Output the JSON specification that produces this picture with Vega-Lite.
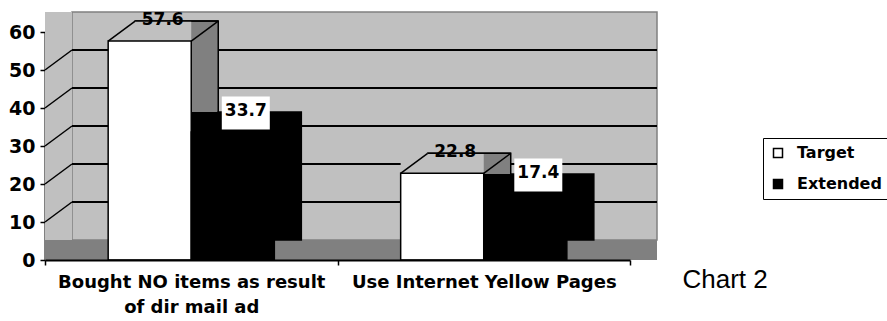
{
  "$schema": "https://vega.github.io/schema/vega-lite/v6.json",
  "width": 585,
  "height": 228,
  "autosize": "none",
  "padding": {"left": 45, "top": 32, "right": 257, "bottom": 61},
  "background": "white",
  "config": {
    "view": {"stroke": null},
    "font": "DejaVu Sans",
    "axisY": {"tickCount": 7, "labelOverlap": false, "zindex": 1, "grid": false, "domainColor": "black", "domainWidth": 2, "tickColor": "black", "tickSize": 5, "tickWidth": 1.5, "labelFont": "DejaVu Sans", "labelFontWeight": "bold", "labelFontSize": 19, "labelColor": "black", "labelPadding": 5, "titleColor": "white", "titleFontSize": 1}
  },
  "datasets": {
    "bars": [
      {"cat": "Bought NO items as result of dir mail ad", "series": "Target", "v": 57.6},
      {"cat": "Bought NO items as result of dir mail ad", "series": "Extended", "v": 33.7},
      {"cat": "Use Internet Yellow Pages", "series": "Target", "v": 22.8},
      {"cat": "Use Internet Yellow Pages", "series": "Extended", "v": 17.4}
    ],
    "wall": [{"lo": 0, "hi": 60}],
    "floor": [{"v": 0}],
    "grid": [{"v": 10}, {"v": 20}, {"v": 30}, {"v": 40}, {"v": 50}],
    "side": [{"v": 10}, {"v": 20}, {"v": 30}, {"v": 40}, {"v": 50}]
  },
  "resolve": {"scale": {"x": "independent"}, "axis": {"x": "independent"}},
  "layer": [
    {
      "layer": [
        {
          "data": {"name": "wall"},
          "mark": {"type": "rect", "fill": "#C0C0C0", "stroke": "#808080", "strokeWidth": 1.5, "xOffset": 27, "x2Offset": 27, "yOffset": -20, "y2Offset": -20},
          "encoding": {
            "x": {"datum": 0, "type": "quantitative", "scale": {"domain": [0, 1]}, "axis": null},
            "x2": {"datum": 1},
            "y": {"field": "lo", "type": "quantitative", "scale": {"domain": [0, 60], "nice": false}, "title": null},
            "y2": {"field": "hi"}
          }
        },
        {
          "data": {"name": "wall"},
          "mark": {"type": "rect", "fill": "#C0C0C0", "x2Offset": 27, "y2Offset": -20},
          "encoding": {
            "x": {"datum": 0, "type": "quantitative"},
            "x2": {"datum": 0},
            "y": {"field": "lo", "type": "quantitative", "title": null},
            "y2": {"field": "hi"}
          }
        },
        {
          "data": {"name": "floor"},
          "mark": {"type": "rect", "fill": "#808080", "x2Offset": 27, "y2Offset": -20},
          "encoding": {
            "x": {"datum": 0, "type": "quantitative"},
            "x2": {"datum": 1},
            "y": {"field": "v", "type": "quantitative", "title": null},
            "y2": {"field": "v"}
          }
        },
        {
          "data": {"name": "grid"},
          "mark": {"type": "rule", "color": "black", "strokeWidth": 2, "xOffset": 27, "x2Offset": 27, "yOffset": -20, "y2Offset": -20},
          "encoding": {
            "x": {"datum": 0, "type": "quantitative"},
            "x2": {"datum": 1},
            "y": {"field": "v", "type": "quantitative", "title": null},
            "y2": {"field": "v"}
          }
        },
        {
          "data": {"name": "side"},
          "mark": {"type": "rule", "color": "black", "strokeWidth": 1.5, "x2Offset": 27, "y2Offset": -20},
          "encoding": {
            "x": {"datum": 0, "type": "quantitative"},
            "x2": {"datum": 0},
            "y": {"field": "v", "type": "quantitative", "title": null},
            "y2": {"field": "v"}
          }
        }
      ]
    },
    {
      "data": {"name": "bars"},
      "encoding": {
        "x": {"field": "cat", "type": "nominal", "sort": null, "scale": {"paddingInner": 0, "paddingOuter": 0},
          "axis": {"orient": "bottom", "zindex": 1, "title": "Chart 2", "labelAngle": 0,
            "labelExpr": "datum.value == 'Bought NO items as result of dir mail ad' ? ['Bought NO items as result', 'of dir mail ad'] : datum.value",
            "labelFont": "DejaVu Sans", "labelFontWeight": "bold", "labelFontSize": 18, "labelColor": "black", "labelLineHeight": 25, "labelPadding": 8, "labelLimit": 0,
            "domainColor": "black", "domainWidth": 2, "tickColor": "black", "tickWidth": 1.5, "tickSize": 5, "tickBand": "extent",
            "titleX": 637, "titleY": 19, "titleAlign": "left", "titleBaseline": "middle", "titleFont": "Liberation Sans", "titleFontWeight": "normal", "titleFontSize": 26, "titleColor": "black", "titleAngle": 0}},
        "y": {"field": "v", "type": "quantitative", "title": null}
      },
      "layer": [
        {
          "transform": [{"filter": "datum.series == 'Target'"}],
          "mark": {"type": "bar", "width": {"band": 0.284}, "xOffset": -14.55, "yOffset": -20, "y2Offset": -20, "fill": "#808080", "stroke": "black", "strokeWidth": 1.5}
        },
        {
          "transform": [{"filter": "datum.series == 'Extended'"}],
          "mark": {"type": "bar", "width": {"band": 0.284}, "xOffset": 68.55, "yOffset": -20, "y2Offset": -20, "fill": "black", "stroke": "black", "strokeWidth": 1.5}
        },
        {
          "transform": [{"filter": "datum.series == 'Target'"}],
          "mark": {"type": "bar", "width": {"band": 0.284}, "xOffset": -41.55, "yOffset": -20, "fill": "#C0C0C0"},
          "encoding": {"y2": {"field": "v"}}
        },
        {
          "transform": [{"filter": "datum.series == 'Extended'"}],
          "mark": {"type": "bar", "width": {"band": 0.284}, "xOffset": 41.55, "yOffset": -20, "fill": "black"},
          "encoding": {"y2": {"field": "v"}}
        },
        {
          "transform": [{"filter": "datum.series == 'Target'"}],
          "mark": {"type": "bar", "width": {"band": 0.284}, "xOffset": -14.55, "yOffset": -20, "y2Offset": -20, "fillOpacity": 0, "stroke": "black", "strokeWidth": 1.5},
          "encoding": {"y2": {"field": "v"}}
        },
        {
          "transform": [{"filter": "datum.series == 'Target'"}],
          "mark": {"type": "bar", "width": {"band": 0.284}, "xOffset": -41.55, "stroke": "black", "strokeWidth": 1.5},
          "encoding": {"fill": {"field": "series", "type": "nominal", "scale": {"domain": ["Target", "Extended"], "range": ["white", "black"]},
            "legend": {"title": null, "orient": "none", "legendX": 718, "legendY": 106, "strokeColor": "black", "padding": 7, "rowPadding": 15, "labelOffset": 11, "labelFont": "DejaVu Sans", "labelFontWeight": "bold", "labelFontSize": 16, "labelColor": "black", "labelLimit": 0, "symbolType": "square", "symbolSize": 81, "symbolStrokeColor": "black", "symbolStrokeWidth": 1.5}}}
        },
        {
          "transform": [{"filter": "datum.series == 'Extended'"}],
          "mark": {"type": "bar", "width": {"band": 0.284}, "xOffset": 41.55, "stroke": "black", "strokeWidth": 1.5},
          "encoding": {"fill": {"field": "series", "type": "nominal", "scale": {"domain": ["Target", "Extended"], "range": ["white", "black"]}}}
        },
        {
          "transform": [{"filter": "datum.series == 'Target'"}],
          "mark": {"type": "rule", "color": "black", "strokeWidth": 1.5, "xOffset": -83.1, "x2Offset": -56.1, "y2Offset": -20},
          "encoding": {"x": {"field": "cat", "type": "nominal", "sort": null, "bandPosition": 0.5}, "x2": {"field": "cat", "bandPosition": 0.5}, "y2": {"field": "v"}}
        },
        {
          "transform": [{"filter": "datum.series == 'Target'"}],
          "mark": {"type": "rule", "color": "black", "strokeWidth": 1.5, "xOffset": 0, "x2Offset": 27, "y2Offset": -20},
          "encoding": {"x": {"field": "cat", "type": "nominal", "sort": null, "bandPosition": 0.5}, "x2": {"field": "cat", "bandPosition": 0.5}, "y2": {"field": "v"}}
        },
        {
          "transform": [{"filter": "datum.series == 'Extended'"}],
          "mark": {"type": "point", "shape": "M-1,-0.6875L1,-0.6875L1,0.6875L-1,0.6875Z", "size": 2304, "filled": true, "fill": "white", "opacity": 1, "strokeWidth": 0, "xOffset": 54.55, "yOffset": -19}
        },
        {
          "transform": [{"filter": "datum.series == 'Target'"}],
          "mark": {"type": "text", "font": "DejaVu Sans", "fontWeight": "bold", "fontSize": 17, "color": "black", "dx": -28.55, "dy": -21, "baseline": "middle"},
          "encoding": {"text": {"field": "v", "type": "quantitative", "format": ".1f"}}
        },
        {
          "transform": [{"filter": "datum.series == 'Extended'"}],
          "mark": {"type": "text", "font": "DejaVu Sans", "fontWeight": "bold", "fontSize": 17, "color": "black", "dx": 54.55, "dy": -21, "baseline": "middle"},
          "encoding": {"text": {"field": "v", "type": "quantitative", "format": ".1f"}}
        }
      ]
    }
  ]
}
